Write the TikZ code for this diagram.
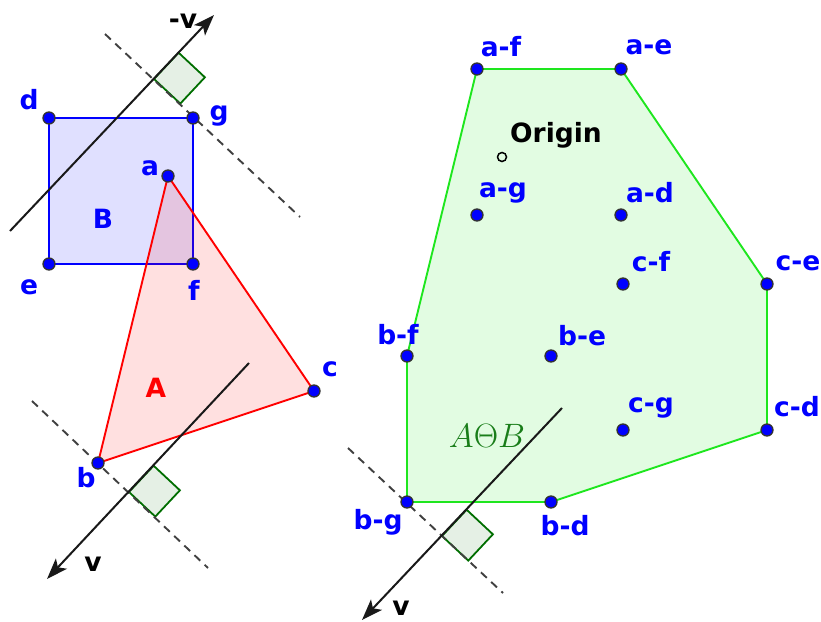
\documentclass[tikz,border=0pt]{standalone}
\usepackage{fontspec}
\setmainfont{DejaVu Sans}
\usetikzlibrary{arrows.meta}
\definecolor{hullgreen}{RGB}{30,230,30}
\definecolor{rgreen}{RGB}{0,110,0}
\definecolor{txtgreen}{RGB}{25,125,25}
\begin{document}
\begin{tikzpicture}[x=1pt,y=-1pt,
  lbl/.style={font=\fontsize{26.5}{30}\selectfont\bfseries, text=blue, inner sep=0pt},
  blk/.style={font=\fontsize{26.5}{30}\selectfont\bfseries, text=black, inner sep=0pt},
  pt/.style={circle, fill=blue, draw=black!80, line width=1.3pt, minimum size=12pt, inner sep=0pt},
  axis/.style={line width=2pt, black!90},
  arr/.style={axis, -{Stealth[length=21pt,width=15pt,inset=5pt]}},
  perp/.style={line width=1.9pt, black!75, dash pattern=on 8pt off 6pt},
  rsq/.style={draw=rgreen, fill=rgreen, fill opacity=0.1, line width=1.8pt},
  polyB/.style={draw=blue, fill=blue, fill opacity=0.12, line width=1.9pt},
  polyA/.style={draw=red, fill=red, fill opacity=0.12, line width=1.9pt},
  polyH/.style={draw=hullgreen, fill=hullgreen, fill opacity=0.13, line width=1.9pt},
]
\useasboundingbox (0,0) rectangle (821,621);

% ---------- left: B and A ----------
\coordinate (d) at (49,118);
\coordinate (g) at (193,118);
\coordinate (e) at (49,264);
\coordinate (f) at (193,264);
\coordinate (a) at (168,176);
\coordinate (b) at (98,463);
\coordinate (c) at (314,391);

\path[polyB] (d) -- (g) -- (f) -- (e) -- cycle;
\path[polyA] (a) -- (c) -- (b) -- cycle;

% top projection (-v)
\coordinate (t0) at (10,231);
\coordinate (t1) at (214,15);
\coordinate (P1) at (154,79);
\coordinate (s1a) at (178.6,52.7);
\coordinate (s1b) at (204.9,77.3);
\coordinate (s1c) at (180.3,103.6);
\coordinate (td0) at (105,34);
\coordinate (td1) at (300,217);
\path[rsq] (P1) -- (s1a) -- (s1b) -- (s1c) -- cycle;
\draw[perp] (td0) -- (td1);
\draw[arr] (t0) -- (t1);

% bottom projection (v)
\coordinate (u0) at (249,363);
\coordinate (u1) at (47,579);
\coordinate (P2) at (129,492);
\coordinate (s2a) at (153.6,465.7);
\coordinate (s2b) at (179.9,490.3);
\coordinate (s2c) at (155.3,516.6);
\coordinate (ud0) at (32,401);
\coordinate (ud1) at (208,568);
\path[rsq] (P2) -- (s2a) -- (s2b) -- (s2c) -- cycle;
\draw[perp] (ud0) -- (ud1);
\draw[arr] (u0) -- (u1);

% ---------- right: A Theta B ----------
\coordinate (O) at (502,157);
\coordinate (af) at (477,69);
\coordinate (ae) at (621,69);
\coordinate (ag) at (477,215);
\coordinate (ad) at (621,215);
\coordinate (bf) at (407,356);
\coordinate (bg) at (407,502);
\coordinate (bd) at (551,502);
\coordinate (be) at (551,356);
\coordinate (cf) at (623,284);
\coordinate (ce) at (767,284);
\coordinate (cg) at (623,430);
\coordinate (cd) at (767,430);

\path[polyH] (af) -- (ae) -- (ce) -- (cd) -- (bd) -- (bg) -- (bf) -- cycle;

\coordinate (w0) at (562,408);
\coordinate (w1) at (362,620);
\coordinate (P3) at (442,536);
\coordinate (s3a) at (466.6,509.7);
\coordinate (s3b) at (492.9,534.3);
\coordinate (s3c) at (468.3,560.6);
\coordinate (wd0) at (348,448);
\coordinate (wd1) at (503,593);
\path[rsq] (P3) -- (s3a) -- (s3b) -- (s3c) -- cycle;
\draw[perp] (wd0) -- (wd1);
\draw[arr] (w0) -- (w1);

\node[text=txtgreen, inner sep=0pt, font=\fontsize{24.88}{30}\selectfont] (theta) at (487,436) {\scalebox{1.36}{$A\Theta B$}};

% ---------- points ----------
\foreach \p in {d,g,e,f,a,b,c,af,ae,ag,ad,bf,bg,bd,be,cf,ce,cg,cd}
  \node[pt] (dot-\p) at (\p) {};
\node[circle, draw=black, line width=1.5pt, minimum size=9pt, inner sep=0pt] (origin) at (O) {};

% ---------- labels ----------
\node[lbl] (ld) at (29,100) {d};
\node[lbl] (lg) at (219,116) {g};
\node[lbl] (la) at (150,168) {a};
\node[lbl] (le) at (29,287) {e};
\node[lbl] (lf) at (194,290) {f};
\node[lbl] (lB) at (103,219) {B};
\node[lbl, text=red] (lA) at (156,388) {A};
\node[lbl] (lb) at (86,478) {b};
\node[lbl] (lc) at (330,369) {c};
\node[blk] (lmv) at (183,21) {-v};
\node[blk] (lv1) at (93,564) {v};

\node[lbl] (laf) at (501,47) {a-f};
\node[lbl] (lae) at (649,47) {a-e};
\node[blk] (lO) at (556,135) {Origin};
\node[lbl] (lag) at (503,193) {a-g};
\node[lbl] (lad) at (650,193) {a-d};
\node[lbl] (lcf) at (651,262) {c-f};
\node[lbl] (lce) at (798,263) {c-e};
\node[lbl] (lbf) at (398,335) {b-f};
\node[lbl] (lbe) at (582,336) {b-e};
\node[lbl] (lcg) at (651,408) {c-g};
\node[lbl] (lcd) at (797,407) {c-d};
\node[lbl] (lbg) at (378,522) {b-g};
\node[lbl] (lbd) at (565,526) {b-d};
\node[blk] (lv2) at (401,608) {v};
\end{tikzpicture}
\end{document}
